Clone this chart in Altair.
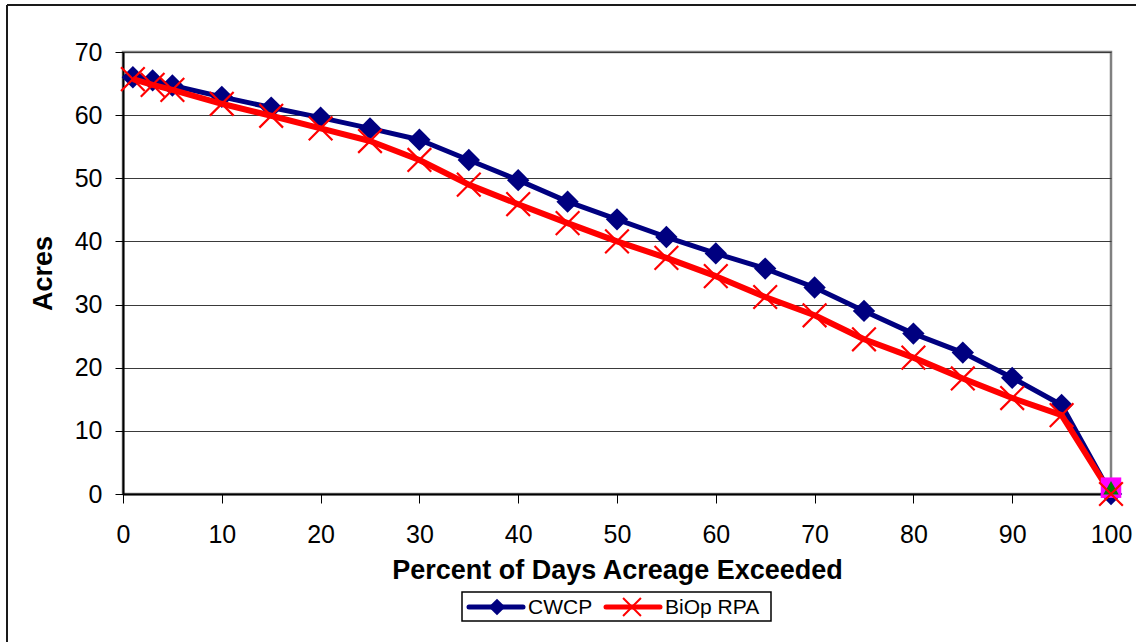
import altair as alt
import pandas as pd

# ---- data ----
x_pct = [1, 3, 5, 10, 15, 20, 25, 30, 35, 40, 45, 50, 55, 60, 65, 70, 75, 80, 85, 90, 95, 100]
cwcp = [66.0, 65.5, 64.7, 62.9, 61.2, 59.6, 57.9, 56.1, 52.9, 49.7, 46.3, 43.5, 40.7,
        38.1, 35.7, 32.7, 29.0, 25.4, 22.4, 18.4, 14.1, 0.0]
biop = [65.7, 64.8, 64.0, 61.8, 59.9, 57.9, 55.9, 52.9, 49.0, 45.9, 42.9, 40.0, 37.4,
        34.5, 31.2, 28.3, 24.5, 21.6, 18.3, 15.2, 12.5, 0.0]
extra_x = [100]
extra_sq = [1.0]
extra_tri = [1.0]
series_names = ["CWCP", "BiOp RPA"]
x_ticks = list(range(0, 101, 10))
y_ticks = list(range(0, 71, 10))

FONT = "Liberation Sans"
BLUE = "#000080"
RED = "#FF0000"
X_PATH = "M-1,-1L1,1M-1,1L1,-1"

df_c = pd.DataFrame({"x": x_pct, "y": cwcp})
df_b = pd.DataFrame({"x": x_pct, "y": biop})
df_sq = pd.DataFrame({"x": extra_x, "y": extra_sq})
df_tri = pd.DataFrame({"x": extra_x, "y": extra_tri})

xs = alt.Scale(domain=[0, 100], nice=False, zero=False)
ys = alt.Scale(domain=[0, 70], nice=False)

x_axis = alt.Axis(values=x_ticks, title="Percent of Days Acreage Exceeded", grid=False,
                  tickSize=9, tickColor="black", domainColor="black", domainWidth=2,
                  labelFontSize=25, labelPadding=19, labelColor="black", labelFlush=False,
                  titleFontSize=27, titleFontWeight="bold", titlePadding=10,
                  titleColor="black", labelFont=FONT, titleFont=FONT)
y_axis = alt.Axis(values=y_ticks, title="Acres", grid=True, gridColor="#3a3a3a",
                  gridWidth=1, tickSize=8, tickColor="black", domainColor="black",
                  domainWidth=2, labelFontSize=25, labelPadding=13, labelColor="black",
                  labelFlush=False,
                  titleFontSize=27, titleFontWeight="bold", titlePadding=17,
                  titleColor="black", labelFont=FONT, titleFont=FONT)

X = alt.X("x:Q", scale=xs, axis=x_axis)
Y = alt.Y("y:Q", scale=ys, axis=y_axis)

line_c = alt.Chart(df_c).mark_line(color=BLUE, strokeWidth=5, strokeJoin="round").encode(x=X, y=Y)
pts_c = alt.Chart(df_c).mark_point(shape="diamond", filled=True, color=BLUE, size=500,
                                   opacity=1).encode(x="x:Q", y="y:Q")
line_b = alt.Chart(df_b).mark_line(color=RED, strokeWidth=6, strokeJoin="round").encode(x="x:Q", y="y:Q")
pts_sq = alt.Chart(df_sq).mark_point(shape="square", filled=True, color="#FF00FF", size=420,
                                     opacity=1).encode(x="x:Q", y="y:Q")
pts_tri = alt.Chart(df_tri).mark_point(shape="triangle-up", filled=True, color="#008000", size=240,
                                       opacity=1).encode(x="x:Q", y="y:Q")
pts_b = alt.Chart(df_b).mark_point(shape=X_PATH, filled=False, color=RED, size=560,
                                   strokeWidth=2.2, opacity=1).encode(x="x:Q", y="y:Q")

# ---- outer frame (decoration) ----
one = pd.DataFrame({"k": [0]})
frame_l = alt.Chart(one).mark_rule(color="#1a1a1a", strokeWidth=2).encode(
    x=alt.value(-116), y=alt.value(-47), y2=alt.value(600))
frame_t = alt.Chart(one).mark_rule(color="#1a1a1a", strokeWidth=2).encode(
    x=alt.value(-116), x2=alt.value(1100), y=alt.value(-47))

# ---- legend (decoration) ----
leg_box = alt.Chart(one).mark_rect(fill="white", stroke="black", strokeWidth=1.5).encode(
    x=alt.value(339), x2=alt.value(648), y=alt.value(540), y2=alt.value(569))
leg_line_c = alt.Chart(one).mark_rule(color=BLUE, strokeWidth=5, strokeCap="round").encode(
    x=alt.value(346), x2=alt.value(400), y=alt.value(555))
leg_pt_c = alt.Chart(one).mark_point(shape="diamond", filled=True, color=BLUE, size=280,
                                     opacity=1).encode(x=alt.value(374), y=alt.value(555))
leg_line_b = alt.Chart(one).mark_rule(color=RED, strokeWidth=5, strokeCap="round").encode(
    x=alt.value(483), x2=alt.value(537), y=alt.value(555))
leg_pt_b = alt.Chart(one).mark_point(shape=X_PATH, filled=False, color=RED, size=320,
                                     strokeWidth=2, opacity=1).encode(x=alt.value(509), y=alt.value(555))
leg_txt_c = alt.Chart(one).mark_text(text=series_names[0], font=FONT, fontSize=21, align="left",
                                     baseline="middle", color="black").encode(
    x=alt.value(405), y=alt.value(556))
leg_txt_b = alt.Chart(one).mark_text(text=series_names[1], font=FONT, fontSize=21, align="left",
                                     baseline="middle", color="black").encode(
    x=alt.value(542), y=alt.value(556))

chart = alt.layer(
    line_c, pts_c, line_b, pts_sq, pts_tri, pts_b,
    frame_l, frame_t,
    leg_box, leg_line_c, leg_pt_c, leg_line_b, leg_pt_b, leg_txt_c, leg_txt_b,
).properties(
    width=988, height=442, autosize="none",
    padding={"left": 123, "top": 52, "right": 25, "bottom": 148},
    background="white",
).configure_view(
    stroke="#808080", strokeWidth=2.5
)

chart.save("out.html", embed_options={"renderer": "svg", "actions": False})
